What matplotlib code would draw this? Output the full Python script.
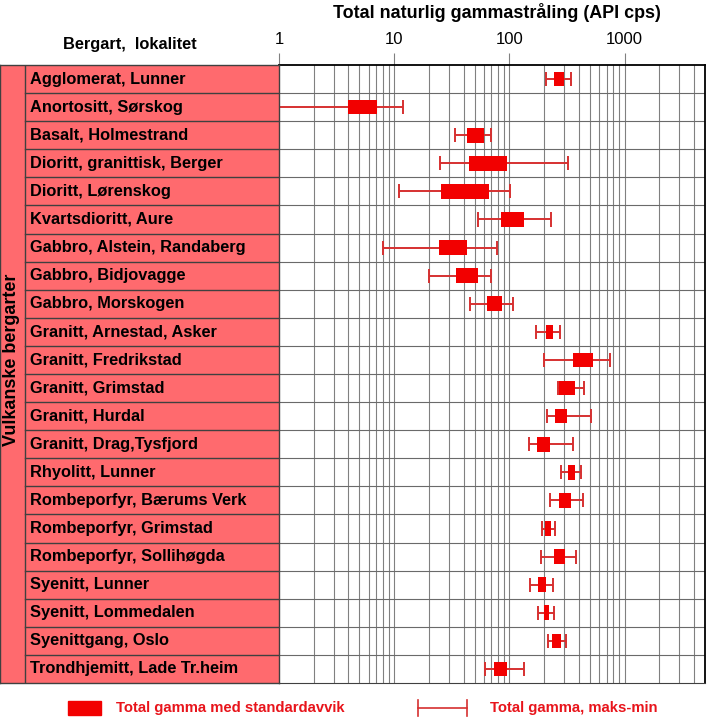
import matplotlib.pyplot as plt
import numpy as np

plt.rcParams['font.family'] = ['Liberation Sans', 'DejaVu Sans']

labels = ["Agglomerat, Lunner", "Anortositt, Sørskog", "Basalt, Holmestrand",
          "Dioritt, granittisk, Berger", "Dioritt, Lørenskog", "Kvartsdioritt, Aure",
          "Gabbro, Alstein, Randaberg", "Gabbro, Bidjovagge", "Gabbro, Morskogen",
          "Granitt, Arnestad, Asker", "Granitt, Fredrikstad", "Granitt, Grimstad",
          "Granitt, Hurdal", "Granitt, Drag,Tysfjord", "Rhyolitt, Lunner",
          "Rombeporfyr, Bærums Verk", "Rombeporfyr, Grimstad", "Rombeporfyr, Sollihøgda",
          "Syenitt, Lunner", "Syenitt, Lommedalen", "Syenittgang, Oslo",
          "Trondhjemitt, Lade Tr.heim"]

# maks-min
gamma_min = [209, 1.0, 33.7, 25, 11, 53.6, 8.0, 20.2, 45.7, 172, 198, 264,
             213, 149, 282, 226, 193, 189, 150, 179, 217, 61]
gamma_max = [344, 12.0, 70, 324, 102, 231, 78, 70, 107, 276, 747, 448,
             515, 357, 422, 436, 250, 379, 240, 243, 309, 133]
# standardavvik
sd_low = [242, 3.95, 43.3, 44.5, 25.7, 85.3, 24.6, 34.6, 64.5, 207, 357, 269,
          248, 173, 321, 272, 203, 245, 176, 199, 235, 73]
sd_high = [299, 7.08, 60.4, 95.5, 66.3, 133, 43.3, 53.6, 86.4, 240, 532, 370,
           317, 225, 374, 341, 228, 307, 207, 220, 283, 95]

group = "Vulkanske bergarter"
xticks = [1, 10, 100, 1000]

W, H = 707, 718
salmon = '#FF6A6E'
box_col = '#F20000'
line_col = '#D63030'
grid_col = '#808080'

fig = plt.figure(figsize=(W / 100, H / 100), dpi=100)

top, bottom = 65, 683
left, right = 279, 705
n = len(labels)
y = np.arange(n)

# --- plot area
ax = fig.add_axes([left / W, 1 - bottom / H, (right - left) / W, (bottom - top) / H])
ax.set_xscale('log')
ax.set_xlim(1, 5000)
ax.set_ylim(n - 0.5, -0.5)

minor = [m * 10 ** d for d in range(0, 4) for m in range(2, 10) if m * 10 ** d < 5000]
for v in minor + xticks[1:]:
    ax.axvline(v, color=grid_col, lw=0.8, zorder=1)
for i in range(n - 1):
    ax.axhline(i + 0.5, color='#6a6a6a', lw=0.8, zorder=1)

lo = np.array(sd_low)
hi = np.array(sd_high)
ax.hlines(y, gamma_min, gamma_max, color=line_col, lw=1.4, zorder=3)
ax.vlines(gamma_min, y - 0.25, y + 0.25, color=line_col, lw=1.4, zorder=3)
ax.vlines(gamma_max, y - 0.25, y + 0.25, color=line_col, lw=1.4, zorder=3)
ax.barh(y, hi - lo, left=lo, height=0.52, color=box_col, zorder=4)

ax.xaxis.tick_top()
ax.set_xticks(xticks)
ax.set_xticklabels([str(t) for t in xticks], fontsize=12)
ax.xaxis.set_minor_locator(plt.NullLocator())
ax.tick_params(axis='x', direction='out', length=9, width=0.8, color=grid_col, pad=4)
ax.set_yticks([])
for s in ['top', 'right']:
    ax.spines[s].set_linewidth(1.3)
ax.spines['bottom'].set_color('#404040')
ax.spines['left'].set_visible(False)

# --- table on the left
tax = fig.add_axes([0, 1 - bottom / H, left / W, (bottom - top) / H])
tax.set_xlim(0, left)
tax.set_ylim(n - 0.5, -0.5)
tax.set_facecolor(salmon)
tax.set_xticks([])
tax.set_yticks([])
for s in tax.spines.values():
    s.set_color('#404040')
    s.set_linewidth(1.0)
tax.axvline(25, color='#404040', lw=1.0)
for i in range(n - 1):
    tax.plot([25, left], [i + 0.5, i + 0.5], color='#404040', lw=1.0)
for i, lab in enumerate(labels):
    tax.text(30, i, lab, fontsize=11.8, fontweight='bold', ha='left', va='center')
tax.text(12, 10.0, group, rotation=90, fontsize=13, fontweight='bold',
         ha='center', va='center')

# --- titles and legend
lax = fig.add_axes([0, 0, 1, 1], zorder=-1)
lax.set_xlim(0, W)
lax.set_ylim(H, 0)
lax.axis('off')
lax.text(497, 13, "Total naturlig gammastråling (API cps)", fontsize=12.9,
         fontweight='bold', ha='center', va='center')
lax.text(129.5, 45, "Bergart,  lokalitet", fontsize=11.8, fontweight='bold',
         ha='center', va='center')

lax.add_patch(plt.Rectangle((68, 700.5), 33, 14, color=box_col))
lax.text(116, 708, "Total gamma med standardavvik", fontsize=10.7, fontweight='bold',
         color='#E8141B', ha='left', va='center')
lax.plot([418, 467], [708, 708], color=line_col, lw=1.2)
lax.plot([418, 418], [700, 716], color=line_col, lw=1.2)
lax.plot([467, 467], [700, 716], color=line_col, lw=1.2)
lax.text(490, 708, "Total gamma, maks-min", fontsize=10.7, fontweight='bold',
         color='#E8141B', ha='left', va='center')

fig.savefig('out.png', dpi=100)
